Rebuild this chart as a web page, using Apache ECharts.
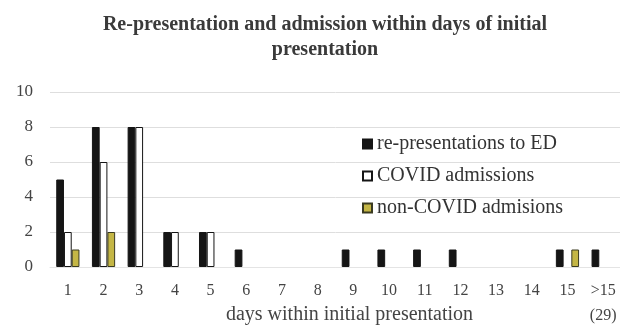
<!DOCTYPE html>
<html>
<head>
<meta charset="utf-8">
<script src="https://cdn.jsdelivr.net/npm/echarts@6/dist/echarts.min.js"></script>
<style>
  html, body { margin: 0; padding: 0; background: #fff; }
  #chart { width: 620px; height: 327px; }
</style>
</head>
<body>
<div id="chart"></div>
<script>
// Days after the initial presentation
const days = ['1', '2', '3', '4', '5', '6', '7', '8', '9', '10', '11', '12', '13', '14', '15', '>15\n(29)'];
// Counts per day
const rePresentations = [5, 8, 8, 2, 2, 1, 0, 0, 1, 1, 1, 1, 0, 0, 1, 1];
const covidAdmissions = [2, 6, 8, 2, 2, 0, 0, 0, 0, 0, 0, 0, 0, 0, 0, 0];
const nonCovidAdmissions = [1, 2, 0, 0, 0, 0, 0, 0, 0, 0, 0, 0, 0, 0, 1, 0];
const yTicks = [0, 2, 4, 6, 8, 10];

const serif = '"Liberation Serif", "DejaVu Serif", serif';

// zero counts draw no bar (and no outline)
function barData(values) {
  return values.map(v => v === 0 ? { value: v, itemStyle: { borderWidth: 0, opacity: 0 } } : v);
}

const chart = echarts.init(document.getElementById('chart'));

chart.setOption({
  animation: false,
  backgroundColor: '#fff',
  title: {
    text: 'Re-presentation and admission within days of initial\npresentation',
    left: 320,
    textAlign: 'center',
    top: 7,
    textStyle: {
      fontFamily: serif,
      fontSize: 20,
      fontWeight: 'bold',
      color: '#3a3a3a',
      lineHeight: 25
    }
  },
  legend: {
    orient: 'vertical',
    left: 357,
    top: 129,
    itemGap: 12,
    itemWidth: 9,
    itemHeight: 9,
    icon: 'rect',
    textStyle: { fontFamily: serif, fontSize: 20, color: '#333' },
    data: ['re-presentations to ED', 'COVID admissions', 'non-COVID admisions']
  },
  grid: { left: 50, right: -1, top: 92, bottom: 60, outerBoundsMode: 'none', containLabel: false },
  xAxis: {
    type: 'category',
    data: days,
    name: 'days within initial presentation',
    nameLocation: 'middle',
    nameGap: 38,
    nameMoveOverlap: false,
    nameTextStyle: { fontFamily: serif, fontSize: 20, color: '#444', padding: [0, 0, 0, 28] },
    axisLine: { show: true, lineStyle: { color: '#e4e4e4' } },
    axisTick: { show: false },
    axisLabel: { fontFamily: serif, fontSize: 16, color: '#444', margin: 11, lineHeight: 25, interval: 0 }
  },
  yAxis: {
    type: 'value',
    min: yTicks[0],
    max: yTicks[yTicks.length - 1],
    interval: 2,
    axisLine: { show: false },
    axisTick: { show: false },
    axisLabel: { fontFamily: serif, fontSize: 17, color: '#444', margin: 17, align: 'right' },
    splitLine: { lineStyle: { color: '#dedede' } }
  },
  series: [
    {
      name: 're-presentations to ED',
      type: 'bar',
      data: barData(rePresentations),
      barGap: '0%',
      barCategoryGap: '35%',
      itemStyle: { color: '#151515', borderColor: '#151515', borderWidth: 1 }
    },
    {
      name: 'COVID admissions',
      type: 'bar',
      data: barData(covidAdmissions),
      itemStyle: { color: '#ffffff', borderColor: '#151515', borderWidth: 1 }
    },
    {
      name: 'non-COVID admisions',
      type: 'bar',
      data: barData(nonCovidAdmissions),
      itemStyle: { color: '#c4b645', borderColor: '#3a3a20', borderWidth: 1 }
    }
  ]
});
</script>
</body>
</html>
